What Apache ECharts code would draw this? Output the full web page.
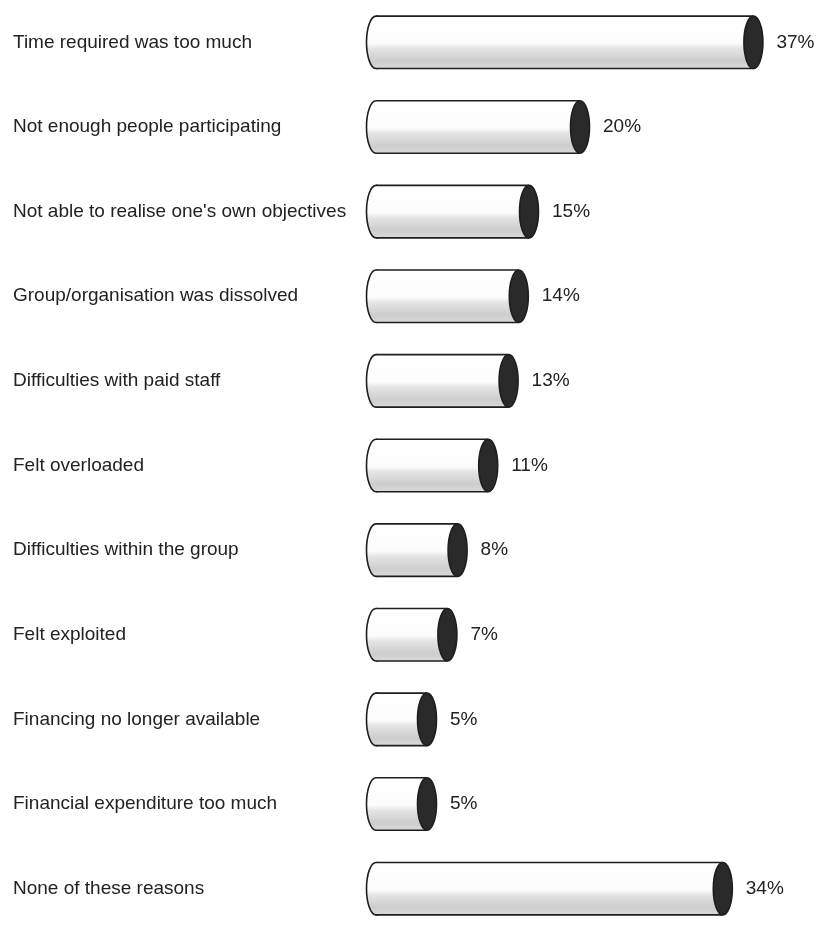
<!DOCTYPE html>
<html>
<head>
<meta charset="utf-8">
<script src="https://cdn.jsdelivr.net/npm/echarts@6/dist/echarts.min.js"></script>
<style>
  html, body { margin: 0; padding: 0; background: #fff; }
  #chart { width: 816px; height: 931px; }
</style>
</head>
<body>
<div id="chart"></div>
<script>
// reasons for stopping, top to bottom
const categories = [
  'Time required was too much',
  'Not enough people participating',
  "Not able to realise one's own objectives",
  'Group/organisation was dissolved',
  'Difficulties with paid staff',
  'Felt overloaded',
  'Difficulties within the group',
  'Felt exploited',
  'Financing no longer available',
  'Financial expenditure too much',
  'None of these reasons'
]
const values = [37, 20, 15, 14, 13, 11, 8, 7, 5, 5, 34]

const font = 'Liberation Sans, Arial, sans-serif'

const bodyFill = new echarts.graphic.LinearGradient(0, 0, 0, 1, [
  { offset: 0, color: '#ffffff' },
  { offset: 0.52, color: '#fcfcfc' },
  { offset: 0.62, color: '#e4e4e4' },
  { offset: 0.85, color: '#cdcdcd' },
  { offset: 1, color: '#d9d9d9' }
])

const renderCylinder = (params, api) => {
  const start = api.coord([0, api.value(1)])
  const end = api.coord([api.value(0), api.value(1)])
  const h = api.size([0, 1])[1] * 0.62
  const yc = start[1]
  const yt = yc - h / 2
  const yb = yc + h / 2
  const x0 = start[0]
  const x1 = end[0]
  const rx = 9.5
  const line = { stroke: '#1e1e1e', lineWidth: 1.6 }
  return {
    type: 'group',
    children: [
      {
        type: 'ellipse',
        shape: { cx: x0, cy: yc, rx: rx, ry: h / 2 },
        style: Object.assign({ fill: bodyFill }, line)
      },
      {
        type: 'rect',
        shape: { x: x0, y: yt, width: x1 - x0, height: h },
        style: { fill: bodyFill }
      },
      { type: 'line', shape: { x1: x0, y1: yt, x2: x1, y2: yt }, style: line },
      { type: 'line', shape: { x1: x0, y1: yb, x2: x1, y2: yb }, style: line },
      {
        type: 'ellipse',
        shape: { cx: x1, cy: yc, rx: rx, ry: h / 2 },
        style: Object.assign({ fill: '#2a2a2a' }, line)
      },
      {
        type: 'text',
        style: {
          text: api.value(0) + '%',
          x: x1 + 23,
          y: yc,
          fill: '#222',
          font: '19px ' + font,
          textAlign: 'left',
          verticalAlign: 'middle',
          textVerticalAlign: 'middle'
        }
      }
    ]
  }
}

const chart = echarts.init(document.getElementById('chart'))
chart.setOption({
  animation: false,
  grid: { left: 376, top: -5.3, width: 408, height: 952.6 },
  xAxis: {
    type: 'value',
    min: 0,
    max: 40,
    show: false
  },
  yAxis: {
    type: 'category',
    inverse: true,
    data: categories,
    axisLine: { show: false },
    axisTick: { show: false },
    splitLine: { show: false },
    axisLabel: {
      align: 'left',
      margin: 363,
      color: '#222',
      fontSize: 19,
      fontFamily: font
    }
  },
  series: [
    {
      type: 'custom',
      renderItem: renderCylinder,
      encode: { x: 0, y: 1 },
      data: values.map((v, i) => [v, i])
    }
  ]
})
</script>
</body>
</html>
